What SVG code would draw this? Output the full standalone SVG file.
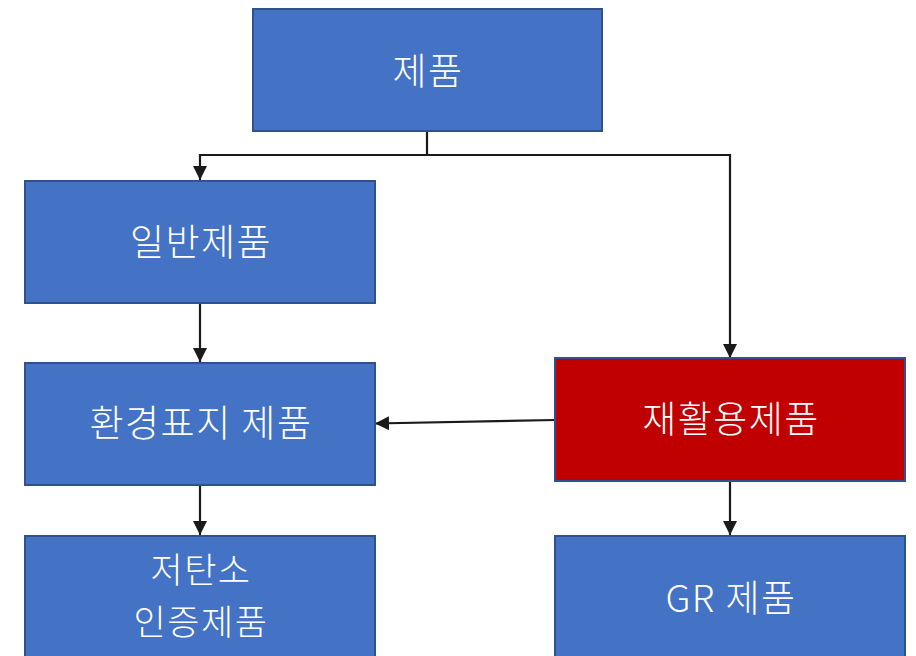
<svg xmlns="http://www.w3.org/2000/svg" width="916" height="656" viewBox="0 0 916 656">
<defs>
<style>
.box{fill:#4472C4;stroke:#2F528F;stroke-width:2}
.red{fill:#C00000;stroke:#2F528F;stroke-width:2}
.t{fill:#ffffff;font-family:"Noto Sans CJK KR","Noto Sans",sans-serif;font-weight:300;font-size:37px;letter-spacing:1.5px;text-anchor:middle;dominant-baseline:central}
.s{font-size:35px}
.c{fill:none;stroke:#1a1a1a;stroke-width:2.2}
</style>
<marker id="ah" markerWidth="14" markerHeight="14" viewBox="0 0 14 14" refX="14" refY="7" orient="auto" markerUnits="userSpaceOnUse">
<path d="M0,0 L14,7 L0,14 z" fill="#1a1a1a"/>
</marker>
</defs>
<rect width="916" height="656" fill="#ffffff"/>
<g id="connectors">
<path class="c" d="M427,131 V155 H200 V180" marker-end="url(#ah)"/>
<path class="c" d="M427,155 H730 V358" marker-end="url(#ah)"/>
<path class="c" d="M200,303 V362" marker-end="url(#ah)"/>
<path class="c" d="M200,485 V535" marker-end="url(#ah)"/>
<path class="c" d="M730,481 V535" marker-end="url(#ah)"/>
<path class="c" d="M555,420 L375,423.5" marker-end="url(#ah)"/>
</g>
<g id="n-product">
<rect class="box" x="253" y="9" width="349" height="122"/>
<text class="t" x="428" y="69">제품</text>
</g>
<g id="n-general">
<rect class="box" x="25" y="181" width="350" height="122"/>
<text class="t" x="201" y="240">일반제품</text>
</g>
<g id="n-eco">
<rect class="box" x="25" y="363" width="350" height="122"/>
<text class="t" x="201" y="421">환경표지 제품</text>
</g>
<g id="n-lowcarbon">
<rect class="box" x="25" y="536" width="350" height="130"/>
<text class="t s" x="201" y="567">저탄소</text>
<text class="t s" x="201" y="619">인증제품</text>
</g>
<g id="n-recycled">
<rect class="red" x="555" y="358" width="350" height="123"/>
<text class="t" x="731" y="417">재활용제품</text>
</g>
<g id="n-gr">
<rect class="box" x="555" y="536" width="350" height="130"/>
<text class="t" x="731" y="596">GR 제품</text>
</g>
</svg>
